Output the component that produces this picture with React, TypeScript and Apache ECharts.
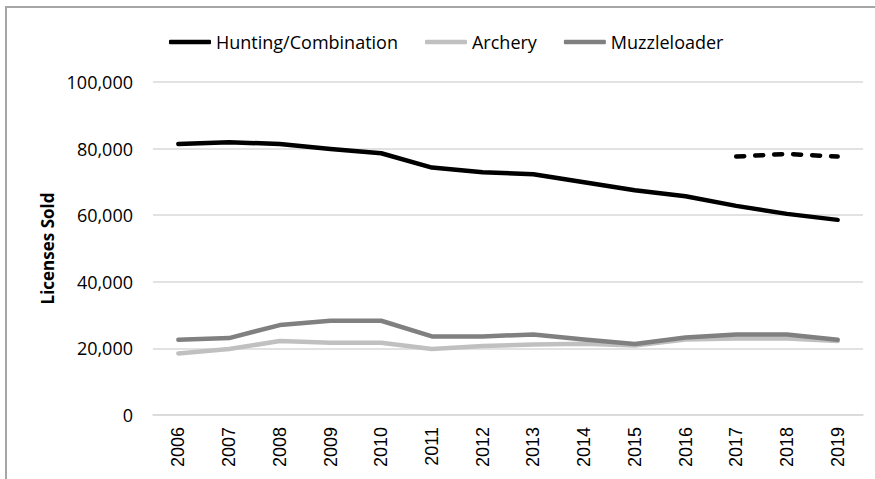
import React, { useEffect, useRef } from "react";
import * as echarts from "echarts";

const years = ["2006","2007","2008","2009","2010","2011","2012","2013","2014","2015","2016","2017","2018","2019"];
const hunting = [81400, 81900, 81400, 79900, 78600, 74300, 72900, 72300, 69900, 67500, 65700, 62800, 60400, 58600];
const huntingNew = [null, null, null, null, null, null, null, null, null, null, null, 77600, 78400, 77600];
const archery = [18500, 19800, 22200, 21700, 21700, 19800, 20700, 21200, 21400, 20900, 22700, 23000, 23000, 22200];
const muzzleloader = [22600, 23100, 27000, 28300, 28300, 23600, 23600, 24200, 22700, 21300, 23300, 24200, 24200, 22600];
const yTicks = [0, 20000, 40000, 60000, 80000, 100000];

const FONT = "'Open Sans', sans-serif";

export default function App() {
  const ref = useRef<HTMLDivElement>(null);
  useEffect(() => {
    if (!ref.current) return;
    const chart = echarts.init(ref.current, undefined, { renderer: "svg" });
    const lineBase = { width: 4.5, cap: "round" as const, join: "round" as const };
    chart.setOption({
      animation: false,
      backgroundColor: "#ffffff",
      graphic: [
        {
          type: "rect",
          shape: { x: 6, y: 7, width: 900, height: 500 },
          style: { fill: "none", stroke: "#a6a6a6", lineWidth: 2 },
          silent: true,
        },
      ],
      legend: {
        data: ["Hunting/Combination", "Archery", "Muzzleloader"],
        left: 164,
        top: 28,
        icon: "roundRect",
        itemWidth: 42,
        itemHeight: 4.5,
        itemGap: 27,
        textStyle: { fontFamily: FONT, fontSize: 18, color: "#000" },
      },
      grid: { left: 153, right: 12, top: 82, bottom: 64, containLabel: false },
      xAxis: {
        type: "category",
        data: years,
        boundaryGap: true,
        axisLine: { show: true, lineStyle: { color: "#d9d9d9", width: 1.5 } },
        axisTick: { show: false },
        axisLabel: {
          rotate: 90,
          margin: 12,
          interval: 0,
          fontFamily: "'Liberation Sans', Arial, sans-serif",
          fontSize: 18,
          color: "#000",
        },
      },
      yAxis: {
        type: "value",
        min: 0,
        max: 100000,
        interval: 20000,
        name: "Licenses Sold",
        nameLocation: "middle",
        nameGap: 97,
        nameTextStyle: { fontFamily: FONT, fontSize: 17, fontWeight: "bold", color: "#000" },
        axisLine: { show: false },
        axisTick: { show: false },
        splitLine: { lineStyle: { color: "#d9d9d9", width: 1.5 } },
        axisLabel: {
          margin: 20,
          fontFamily: FONT,
          fontSize: 18,
          color: "#000",
          formatter: (v: number) => (yTicks.includes(v) ? v.toLocaleString("en-US") : ""),
        },
      },
      series: [
        {
          name: "Archery",
          type: "line",
          data: archery,
          symbol: "none",
          color: "#c0c0c0",
          lineStyle: { ...lineBase, color: "#c0c0c0" },
          z: 2,
        },
        {
          name: "Muzzleloader",
          type: "line",
          data: muzzleloader,
          symbol: "none",
          color: "#808080",
          lineStyle: { ...lineBase, color: "#808080" },
          z: 3,
        },
        {
          name: "Hunting/Combination",
          type: "line",
          data: hunting,
          symbol: "none",
          color: "#000000",
          lineStyle: { ...lineBase, color: "#000000" },
          z: 4,
        },
        {
          name: "Hunting/Combination (new)",
          type: "line",
          data: huntingNew,
          symbol: "none",
          color: "#000000",
          lineStyle: { ...lineBase, color: "#000000", type: [8, 11] },
          z: 4,
        },
      ],
    });
    return () => chart.dispose();
  }, []);
  return <div ref={ref} style={{ width: 875, height: 479, position: "fixed", left: 0, top: 0 }} />;
}
